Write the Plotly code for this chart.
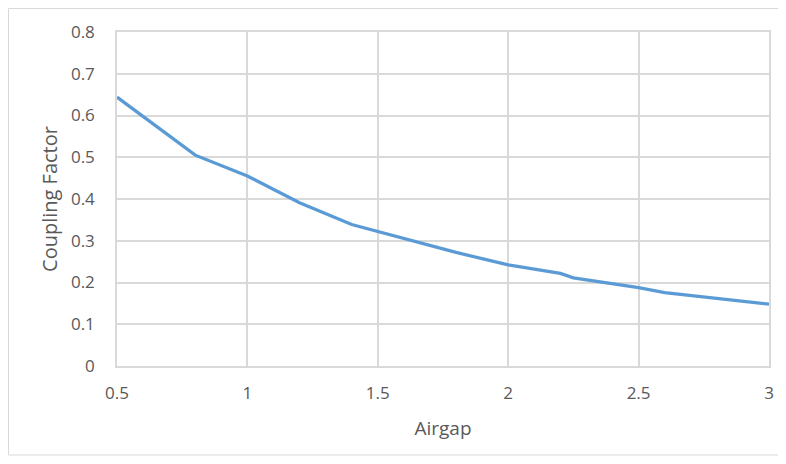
import plotly.graph_objects as go

airgap = [0.5, 0.8, 1.0, 1.2, 1.4, 1.6, 1.8, 2.0, 2.2, 2.25, 2.5, 2.6, 3.0]
coupling = [0.644, 0.505, 0.455, 0.391, 0.339, 0.305, 0.272, 0.242, 0.222, 0.211, 0.188, 0.176, 0.148]

x_ticks = [0.5, 1, 1.5, 2, 2.5, 3]
x_tick_labels = ["0.5", "1", "1.5", "2", "2.5", "3"]
y_ticks = [0, 0.1, 0.2, 0.3, 0.4, 0.5, 0.6, 0.7, 0.8]
y_tick_labels = ["0", "0.1", "0.2", "0.3", "0.4", "0.5", "0.6", "0.7", "0.8"]

grid = "#d9d9d9"
txt = "#595959"
font_family = "Open Sans, Noto Sans, sans-serif"

W, H = 778, 456
L, R, T, B = 109, 17, 24, 98
PW, PH = W - L - R, H - T - B

fig = go.Figure()
fig.add_trace(go.Scatter(
    x=airgap, y=coupling, mode="lines",
    line=dict(color="#5b9bd5", width=3.3),
    showlegend=False, hoverinfo="x+y",
))

bx0 = -(L - 0.5) / PW
bx1 = 1 + R / PW
by0 = -(H - 9 - T - PH) / PH
by1 = 1 + (T - 0.5) / PH
border = dict(color=grid, width=1)

fig.update_layout(
    width=W, height=H,
    margin=dict(l=L, r=R, t=T, b=B),
    paper_bgcolor="white", plot_bgcolor="white",
    font=dict(family=font_family, color=txt, size=17),
    xaxis=dict(
        range=[0.5, 3], tickvals=x_ticks, ticktext=x_tick_labels,
        showgrid=True, gridcolor=grid, gridwidth=1.5,
        showline=True, linecolor=grid, linewidth=1.5, mirror=True,
        zeroline=False, ticks="", ticklabelstandoff=11,
        title=dict(text="Airgap", font=dict(size=19, color=txt), standoff=19),
        tickfont=dict(size=17, color=txt),
    ),
    yaxis=dict(
        range=[0, 0.8], tickvals=y_ticks, ticktext=y_tick_labels,
        showgrid=True, gridcolor=grid, gridwidth=1.5,
        showline=True, linecolor=grid, linewidth=1.5, mirror=True,
        zeroline=False, ticks="", ticklabelstandoff=17,
        title=dict(text="Coupling Factor", font=dict(size=20, color=txt), standoff=8),
        tickfont=dict(size=17, color=txt),
    ),
    shapes=[
        dict(type="line", xref="paper", yref="paper", x0=bx0, x1=bx1, y0=by1, y1=by1, line=border, layer="below"),
        dict(type="line", xref="paper", yref="paper", x0=bx0, x1=bx1, y0=by0, y1=by0, line=border, layer="below"),
        dict(type="line", xref="paper", yref="paper", x0=bx0, x1=bx0, y0=by0, y1=by1, line=border, layer="below"),
    ],
)

fig.write_html("out.html")
